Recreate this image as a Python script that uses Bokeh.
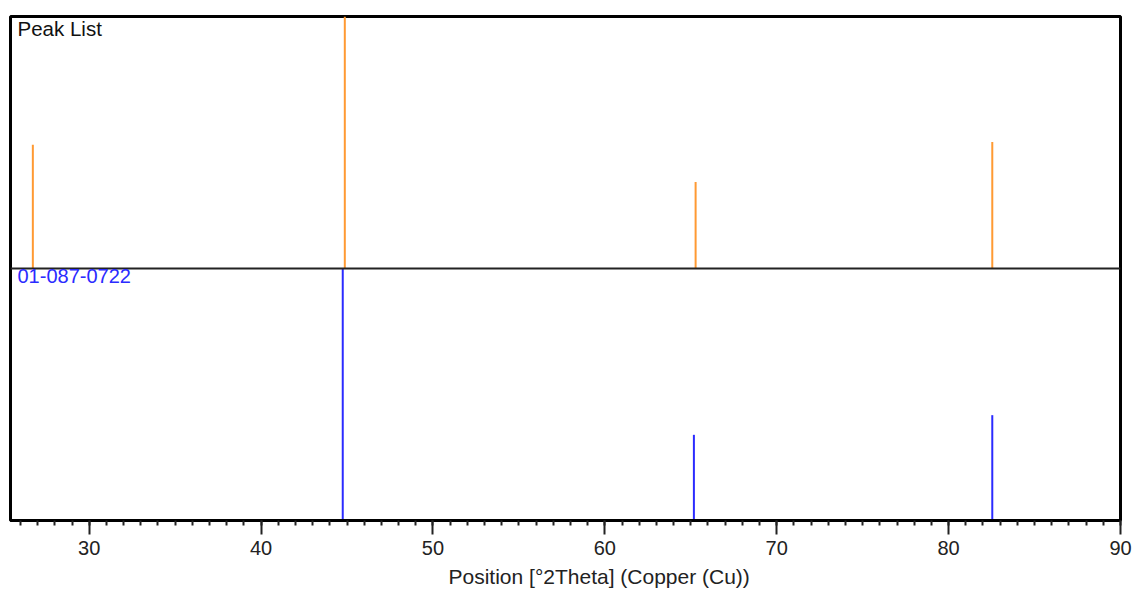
from bokeh.plotting import figure
from bokeh.models import Range1d, Span, Label, FixedTicker, Title
from bokeh.embed import file_html
from bokeh.resources import INLINE

# Data
peak_list_pos = [26.72, 44.87, 65.28, 82.54]
peak_list_int = [49.1, 100.0, 34.3, 50.2]
ref_pos = [44.75, 65.18, 82.54]
ref_int = [100.0, 34.0, 41.8]
major_ticks = [30, 40, 50, 60, 70, 80, 90]
minor_ticks = list(range(26, 91))
panel_labels = ["Peak List", "01-087-0722"]
x_label = "Position [°2Theta] (Copper (Cu))"

FONT = "Liberation Sans"
X_START, X_END = 25.42, 90

p = figure(frame_width=1110, frame_height=504,
           x_range=Range1d(X_START, X_END), y_range=Range1d(0, 200),
           output_backend="svg", toolbar_location=None,
           y_axis_location=None,
           min_border_left=10, min_border_right=12, min_border_top=16,
           min_border_bottom=0)
p.grid.visible = False
p.outline_line_color = "black"
p.outline_line_width = 3
p.background_fill_color = "white"
p.border_fill_color = "white"

# top panel (offset by 100)
p.segment(x0=peak_list_pos, y0=[100] * len(peak_list_pos),
          x1=peak_list_pos, y1=[100 + v for v in peak_list_int],
          line_color="#FF9A33", line_width=2)
# bottom panel
p.segment(x0=ref_pos, y0=[0] * len(ref_pos),
          x1=ref_pos, y1=ref_int,
          line_color="#2B2BFF", line_width=2)

p.add_layout(Span(location=100, dimension="width", line_color="#222222", line_width=2))

p.add_layout(Label(x=X_START, y=200, x_offset=7, y_offset=0, text=panel_labels[0],
                   text_baseline="top", text_font=FONT, text_font_size="20.5px",
                   text_color="#111111"))
p.add_layout(Label(x=X_START, y=100, x_offset=7, y_offset=0, text=panel_labels[1],
                   text_baseline="top", text_font=FONT, text_font_size="20px",
                   text_color="#2B2BFF"))

ax = p.xaxis[0]
ax.ticker = FixedTicker(ticks=major_ticks, minor_ticks=minor_ticks)
ax.axis_line_color = "black"
ax.axis_line_width = 3
ax.major_tick_in = 0
ax.major_tick_out = 14
ax.minor_tick_in = 0
ax.minor_tick_out = 5
ax.major_tick_line_width = 2
ax.minor_tick_line_width = 2
ax.major_tick_line_color = "#222222"
ax.minor_tick_line_color = "#222222"
ax.major_label_standoff = 6
ax.major_label_text_font = FONT
ax.major_label_text_font_size = "20px"
ax.major_label_text_color = "#222222"

# axis title, placed right of the frame centre as in the reference
p.add_layout(Title(text=x_label, align="left", offset=438, standoff=11,
                   text_font=FONT, text_font_size="21px",
                   text_font_style="normal", text_color="#222222"), "below")

open("out.html", "w").write(file_html(p, INLINE))
